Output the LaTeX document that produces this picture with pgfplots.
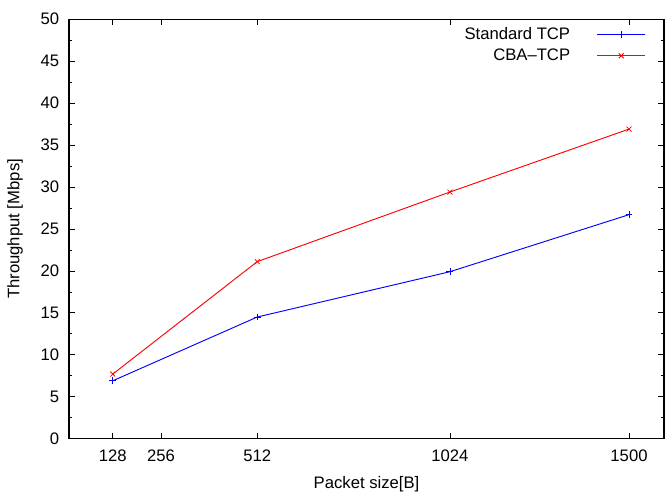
\documentclass[border=0pt]{standalone}
\usepackage{fontspec}
\setmainfont{Liberation Sans}
\usepackage{pgfplots}
\pgfplotsset{compat=1.18}

\begin{document}
\fontsize{12.5pt}{15pt}\selectfont
\begin{tikzpicture}
\begin{axis}[
    at={(0,0)}, anchor=south west,
    scale only axis,
    width=446.25pt, height=314.6pt,
    xmin=11.7, xmax=1593,
    ymin=0, ymax=50,
    xtick={128,256,512,1024,1500},
    ytick={0,5,...,50},
    minor y tick num=1,
    tick align=inside,
    major tick length=4.5pt,
    minor tick length=2.3pt,
    tick style={black, line width=0.5pt},
    axis line style={black, line width=0.9pt},
    /pgf/number format/assume math mode=true,
    /pgf/number format/1000 sep={},
    xticklabel style={yshift=-4pt},
    yticklabel style={xshift=-3pt},
    xlabel={Packet size[B]},
    ylabel={Throughput [Mbps]},
    every axis x label/.style={at={(axis description cs:0.5,0)}, anchor=center, yshift=-34.5pt},
    every axis y label/.style={at={(axis description cs:0,0.5)}, anchor=center, rotate=90, yshift=40.5pt},
    legend style={at={(axis description cs:1,1)}, anchor=north east,
        xshift=-13.5pt, yshift=-4pt, draw=white, fill=white,
        inner sep=0pt, row sep=1pt,
        /tikz/every odd column/.append style={column sep=18pt}},
    legend plot pos=right,
    legend cell align=right,
    legend image code/.code={
        \draw[mark repeat=2, mark phase=2, #1] plot coordinates {(0pt,0pt) (18pt,0pt) (36pt,0pt)};
    },
]
\addplot[blue, line width=0.7pt, mark=+, mark size=2.6pt, mark options={line width=0.6pt}] coordinates {
    (128,6.9) (512,14.5) (1024,19.9) (1500,26.7)
};
\addplot[red, line width=0.7pt, mark=x, mark size=2.6pt, mark options={line width=0.6pt}] coordinates {
    (128,7.7) (512,21.1) (1024,29.4) (1500,36.9)
};
\legend{Standard TCP, CBA{\textendash}TCP}
\end{axis}
\pgfresetboundingbox
\path (-51.75pt,-39.75pt) rectangle (447.75pt,329pt);
\end{tikzpicture}
\end{document}
